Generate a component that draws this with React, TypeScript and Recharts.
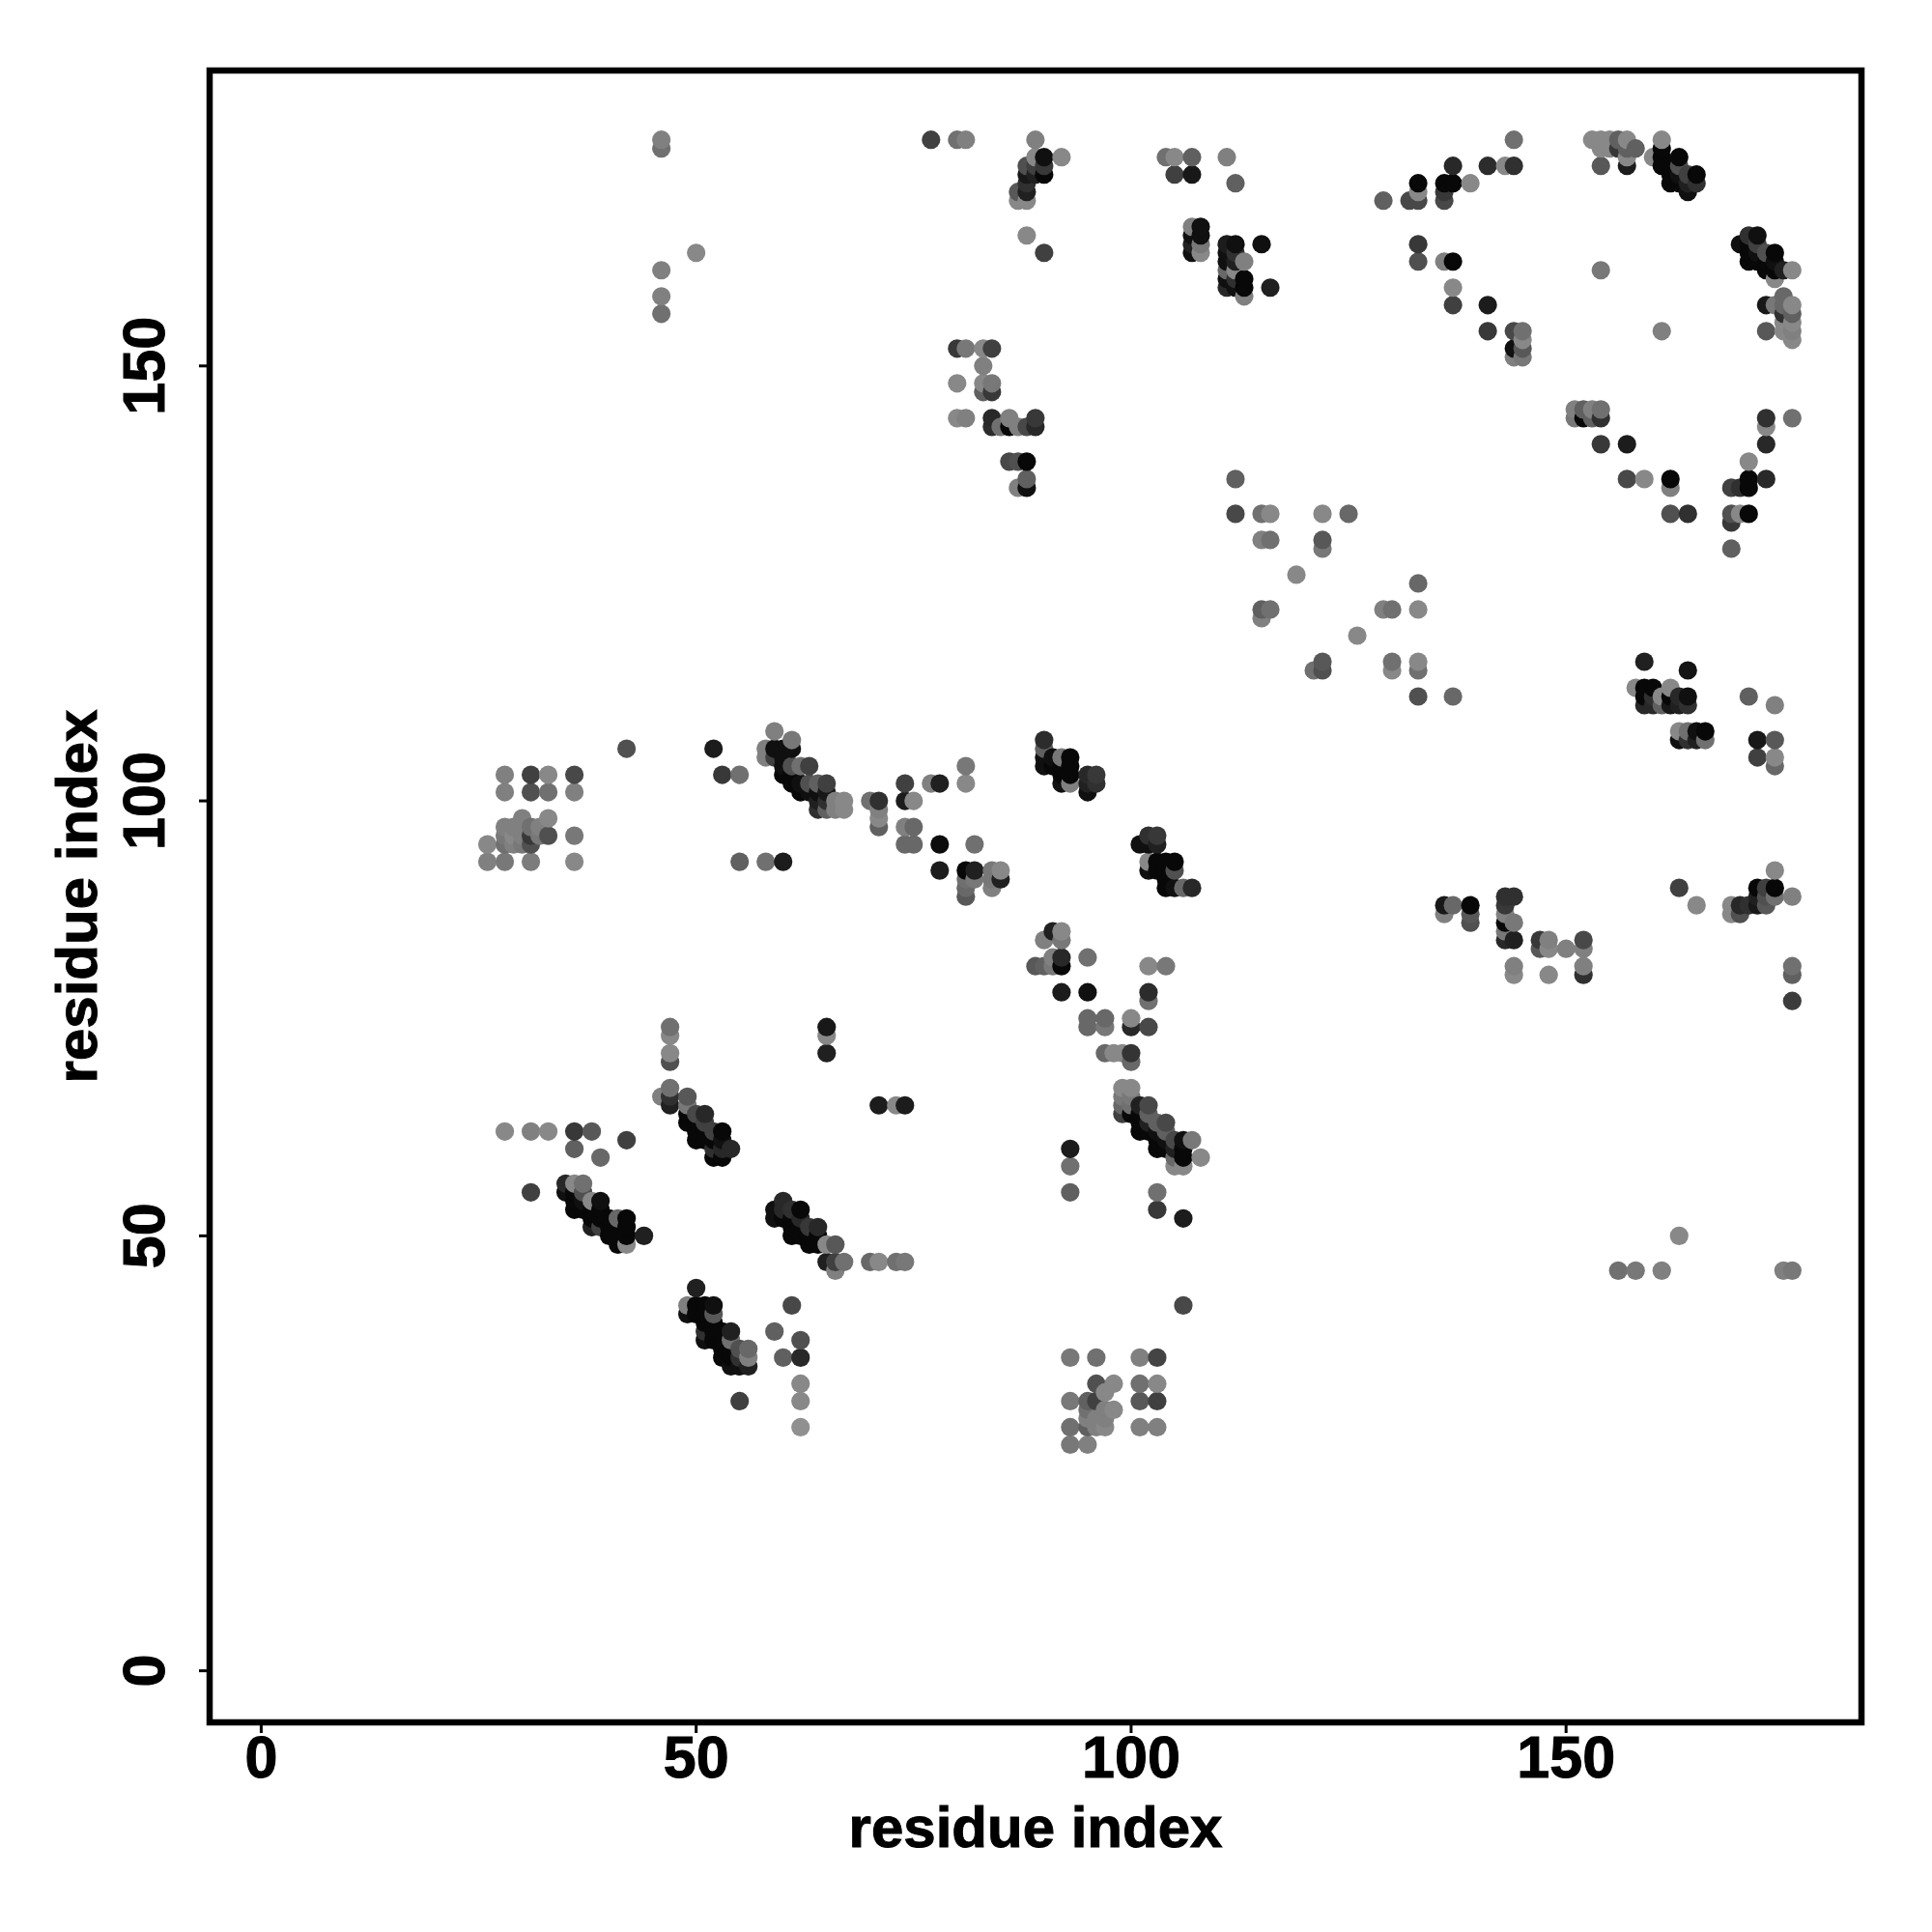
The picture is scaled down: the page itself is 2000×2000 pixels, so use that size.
import React from "react";
import { ScatterChart, Scatter, XAxis, YAxis, ReferenceArea } from "recharts";

type P = [number, number, number]; // residue i, residue j, grey level of the contact

const xTicks = [0, 50, 100, 150];
const yTicks = [0, 50, 100, 150];
const axisTitle = "residue index";

const bottomBlock: P[] = [
  [93,36,0x78],[96,36,0x70],[101,36,0x80],[103,36,0x44],[96,33,0x50],[98,33,0x88],[101,33,0x70],[103,33,0x88],[97,32,0x88],
  [93,31,0x78],[95,31,0x60],[96,31,0x40],[101,31,0x58],[103,31,0x40],[95,30,0x70],[97,30,0x80],[98,30,0x88],
  [95,29,0x80],[96,29,0x80],[97,29,0x80],[93,28,0x70],[95,28,0x60],[96,28,0x80],[97,28,0x88],[101,28,0x80],[103,28,0x80],[93,26,0x78],[95,26,0x80],
];
const strand1: P[] = [
  [50,44,0x20],[49,42,0x80],[49,41,0x10],[50,42,0x08],[51,42,0x08],[52,42,0x10],[50,41,0x08],[51,41,0x08],[52,41,0x58],
  [51,40,0x08],[51,39,0x30],[52,40,0x08],[52,39,0x08],[53,39,0x08],[54,39,0x20],[51,38,0x10],[52,38,0x08],[53,38,0x08],[54,38,0x70],
  [53,37,0x08],[54,37,0x08],[55,37,0x50],[56,37,0x68],[53,36,0x08],[54,36,0x08],[55,36,0x30],[56,36,0x80],[54,35,0x10],[55,35,0x10],[56,35,0x20],
  [55,31,0x40],[61,42,0x48],[59,39,0x60],[62,38,0x50],[60,36,0x60],[62,36,0x28],[62,33,0x88],[62,31,0x88],[62,28,0x90],
];
const strand2: P[] = [
  [31,55,0x40],[35,56,0x28],[35,55,0x10],[36,56,0x88],[37,56,0x70],[36,55,0x08],[36,54,0x08],[36,53,0x08],[37,55,0x50],[37,54,0x10],[37,53,0x08],
  [38,54,0x88],[39,54,0x10],[38,53,0x08],[39,53,0x08],[38,52,0x08],[39,52,0x08],[38,51,0x20],[39,51,0x40],[40,52,0x08],[40,51,0x08],[40,50,0x08],
  [41,52,0x68],[41,50,0x08],[41,49,0x08],[42,52,0x08],[42,51,0x08],[42,50,0x08],[42,49,0x88],[44,50,0x20],
  [59,53,0x10],[59,52,0x10],[60,54,0x28],[60,53,0x28],[60,52,0x08],[61,53,0x30],[61,52,0x08],[61,51,0x08],[61,50,0x08],[62,53,0x08],[62,52,0x28],[62,51,0x08],[62,50,0x08],
  [63,51,0x38],[63,50,0x08],[63,49,0x08],[64,51,0x28],[64,50,0x08],[64,49,0x08],[65,49,0x88],[66,49,0x58],[65,47,0x20],[66,47,0x40],[67,47,0x70],[66,46,0x80],
  [70,47,0x68],[71,47,0x88],[73,47,0x70],[74,47,0x78],
];
const strand3: P[] = [
  [28,62,0x88],[31,62,0x80],[33,62,0x88],[36,62,0x38],[38,62,0x58],[36,60,0x60],[39,59,0x68],[42,61,0x40],
  [47,74,0x70],[47,73,0x88],[47,71,0x88],[47,70,0x50],[65,74,0x18],[65,73,0x88],[65,71,0x20],[71,65,0x1c],[73,65,0x88],[74,65,0x1c],
  [46,66,0x80],[47,67,0x70],[47,66,0x30],[47,65,0x20],[49,66,0x58],[49,65,0x78],[49,64,0x08],[49,63,0x08],[50,64,0x48],[50,63,0x08],[50,62,0x08],[50,61,0x08],
  [51,64,0x28],[51,63,0x40],[51,62,0x08],[51,61,0x08],[52,62,0x40],[52,61,0x08],[52,60,0x30],[52,59,0x08],[53,62,0x08],[53,61,0x10],[53,60,0x28],[53,59,0x08],[54,60,0x28],
];
const strand4: P[] = [
  [99,67,0x88],[100,67,0x88],[99,66,0x78],[99,65,0x68],[99,64,0x40],[100,66,0x78],[100,65,0x70],[100,64,0x08],[101,65,0x20],[102,65,0x48],[101,64,0x08],[101,63,0x08],[101,62,0x08],
  [102,64,0x60],[102,63,0x20],[102,62,0x08],[103,63,0x60],[104,63,0x48],[103,62,0x10],[103,61,0x08],[103,60,0x08],[104,62,0x60],[104,61,0x10],[104,60,0x08],
  [105,61,0x48],[106,61,0x10],[107,61,0x78],[105,60,0x20],[106,60,0x08],[106,59,0x08],[105,59,0x68],[108,59,0x88],[105,58,0x88],[106,58,0x88],
  [93,60,0x1c],[93,58,0x70],[93,55,0x60],[103,55,0x70],[103,53,0x38],[106,52,0x1c],[106,42,0x48],
];
const midPatch: P[] = [
  [26,95,0x88],[26,93,0x80],[28,93,0x78],[31,93,0x7c],[36,93,0x88],[33,96,0x50],[36,96,0x78],[30,98,0x80],[33,98,0x88],
  [28,97,0x80],[29,97,0x80],[28,96,0x78],[29,96,0x88],[28,95,0x70],[29,95,0x80],[30,97,0x80],[30,96,0x80],[30,95,0x78],[31,97,0x70],[31,96,0x38],[31,95,0x50],[32,97,0x80],[32,96,0x78],
  [28,101,0x80],[31,101,0x50],[33,101,0x70],[36,101,0x80],[28,103,0x80],[31,103,0x40],[33,103,0x88],[36,103,0x48],[42,106,0x50],
  [52,106,0x1c],[53,103,0x38],[55,103,0x70],[55,93,0x60],[58,93,0x70],[60,93,0x1c],
];
const strand5: P[] = [
  [59,108,0x80],[61,107,0x78],[58,106,0x80],[58,105,0x80],[59,106,0x10],[59,105,0x40],[60,106,0x10],[60,105,0x10],[60,104,0x10],[60,103,0x08],[61,106,0x10],[61,104,0x50],[61,103,0x08],[61,102,0x08],
  [62,104,0x70],[62,102,0x10],[62,101,0x08],[63,104,0x40],[63,102,0x50],[63,101,0x10],[64,102,0x60],[65,102,0x40],[64,101,0x10],[64,100,0x20],[64,99,0x30],[65,101,0x18],[65,100,0x30],[65,99,0x60],
  [66,100,0x80],[66,99,0x80],[67,100,0x88],[67,99,0x88],
  [70,100,0x70],[71,100,0x30],[71,99,0x80],[71,98,0x88],[71,97,0x60],[74,102,0x40],[74,100,0x1c],[75,100,0x88],[74,97,0x80],[75,97,0x68],[74,95,0x68],[75,95,0x68],
  [77,102,0x80],[78,102,0x20],[81,104,0x78],[81,102,0x88],[78,95,0x0c],[82,95,0x70],[78,92,0x1c],
  [81,92,0x08],[82,92,0x20],[81,91,0x70],[82,91,0x78],[81,90,0x68],[81,89,0x58],[84,92,0x78],[85,92,0x88],[85,91,0x20],[84,91,0x78],[84,90,0x80],
];
const strand6: P[] = [
  [90,107,0x2c],[90,106,0x60],[90,105,0x10],[90,104,0x10],[91,105,0x10],[91,104,0x08],[92,105,0x78],[92,104,0x08],[92,103,0x08],[92,102,0x10],[93,105,0x08],[93,104,0x08],[93,103,0x08],[93,102,0x80],
  [95,103,0x28],[95,102,0x20],[95,101,0x10],[96,103,0x38],[96,102,0x30],
  [101,95,0x10],[102,96,0x30],[103,96,0x38],[102,95,0x10],[103,95,0x20],[102,93,0x88],[102,92,0x10],[103,93,0x08],[104,93,0x08],[105,93,0x08],[103,92,0x08],[104,92,0x08],[105,92,0x50],[104,91,0x08],[104,90,0x08],[105,90,0x10],[106,90,0x68],[107,90,0x28],
  [91,85,0x20],[92,85,0x88],[90,84,0x80],[92,84,0x78],[92,82,0x28],[92,81,0x08],[91,82,0x80],[91,81,0x78],[90,81,0x60],[89,81,0x58],[95,82,0x70],[102,81,0x88],[104,81,0x78],
  [92,78,0x1c],[95,78,0x10],[102,78,0x2c],[102,77,0x70],[95,75,0x68],[95,74,0x68],[97,75,0x68],[97,74,0x78],[100,75,0x88],[100,74,0x28],[102,74,0x48],
  [97,71,0x68],[98,71,0x88],[99,71,0x88],[100,71,0x34],[100,70,0x68],
];
const topLeft: P[] = [
  [46,176,0x80],[46,175,0x70],[46,161,0x80],[46,158,0x80],[46,156,0x70],[50,163,0x88],
  [77,176,0x40],[80,176,0x70],[81,176,0x80],[89,176,0x80],[92,174,0x88],[90,174,0x10],[89,174,0x88],[90,173,0x38],[90,172,0x08],[89,173,0x40],[89,172,0x20],[88,173,0x50],[88,172,0x18],[88,171,0x30],[88,170,0x20],[87,170,0x58],[87,169,0x88],[88,169,0x88],[88,165,0x88],[90,163,0x40],
  [104,174,0x70],[105,174,0x88],[107,174,0x60],[111,174,0x80],[105,172,0x40],[107,172,0x18],[112,171,0x60],
  [107,166,0x80],[108,166,0x10],[108,165,0x10],[107,165,0x10],[107,164,0x20],[108,164,0x78],[107,163,0x10],[108,163,0x88],
  [111,164,0x1c],[112,164,0x10],[115,164,0x10],[111,163,0x10],[112,163,0x30],[113,162,0x80],[111,162,0x10],[112,162,0x20],[111,161,0x68],[112,161,0x88],[111,160,0x10],[112,160,0x30],[113,160,0x08],[113,159,0x08],[111,159,0x28],[112,159,0x10],[113,158,0x80],[116,159,0x20],
  [80,152,0x38],[81,152,0x78],[83,152,0x88],[84,152,0x40],[83,150,0x80],[80,148,0x88],[83,148,0x88],[84,148,0x78],[83,147,0x60],[84,147,0x38],
  [80,144,0x88],[81,144,0x80],[84,144,0x28],[86,144,0x80],[89,144,0x38],[84,143,0x2c],[85,143,0x70],[86,143,0x08],[87,143,0x80],[88,143,0x48],[89,143,0x28],
  [86,139,0x48],[87,139,0x50],[88,139,0x08],[88,137,0x60],[88,136,0x10],[87,136,0x80],
  [112,137,0x60],[112,133,0x48],[115,133,0x70],[116,133,0x88],[122,133,0x88],[125,133,0x68],[115,130,0x80],[116,130,0x70],[122,130,0x58],[122,129,0x78],[119,126,0x88],
  [115,122,0x60],[116,122,0x70],[115,121,0x80],[129,122,0x80],[130,122,0x70],[133,122,0x88],[133,125,0x68],[126,119,0x88],
];
const topRight: P[] = [
  [144,176,0x70],[137,173,0x28],[141,173,0x2c],[143,173,0x88],[144,173,0x30],[133,171,0x08],[136,171,0x08],[137,171,0x08],[139,171,0x88],[133,170,0x88],[136,170,0x38],[129,169,0x60],[132,169,0x48],[133,169,0x48],[136,169,0x48],
  [133,164,0x38],[133,162,0x50],[136,162,0x80],[137,162,0x08],[137,159,0x88],[137,157,0x40],[141,157,0x1c],[141,154,0x38],[144,154,0x48],[145,154,0x70],[145,153,0x88],[144,152,0x10],[145,152,0x58],[144,151,0x80],[145,151,0x78],[154,161,0x78],[161,154,0x80],
  [153,176,0x88],[154,176,0x88],[155,176,0x88],[156,176,0x60],[157,176,0x88],[161,176,0x88],[154,175,0x88],[155,175,0x88],[156,175,0x38],[157,175,0x60],[158,175,0x60],[157,174,0x88],[160,174,0x88],[154,173,0x58],[157,173,0x1c],
  [161,175,0x08],[161,174,0x08],[163,174,0x08],[162,173,0x08],[161,173,0x08],[162,172,0x08],[163,173,0x50],[164,172,0x40],[165,172,0x08],[163,172,0x10],[162,171,0x08],[163,171,0x08],[165,171,0x30],[164,171,0x20],[164,170,0x10],
  [170,164,0x10],[171,165,0x30],[172,165,0x10],[171,164,0x08],[172,164,0x40],[171,163,0x08],[171,162,0x08],[172,163,0x10],[173,163,0x50],[174,163,0x08],[172,162,0x08],[173,162,0x08],[173,161,0x08],[174,162,0x10],[174,161,0x08],[175,161,0x20],[176,161,0x88],[174,160,0x88],
  [173,157,0x18],[174,157,0x78],[175,158,0x68],[176,157,0x88],[175,157,0x68],[175,156,0x30],[176,156,0x60],[175,155,0x88],[176,155,0x88],[175,154,0x88],[176,154,0x80],[173,154,0x58],[176,153,0x88],
  [151,145,0x80],[152,145,0x60],[153,145,0x80],[154,145,0x70],[151,144,0x78],[152,144,0x08],[153,144,0x60],[154,144,0x30],[154,141,0x38],[157,141,0x1c],
  [173,144,0x30],[176,144,0x70],[173,143,0x88],[173,141,0x28],[171,139,0x88],[157,137,0x48],[159,137,0x88],[162,137,0x08],[171,137,0x08],[173,137,0x28],[162,136,0x80],[169,136,0x40],[170,136,0x30],[171,136,0x08],
  [162,133,0x50],[164,133,0x30],[169,133,0x50],[170,133,0x88],[171,133,0x08],[169,132,0x38],[169,129,0x60],
];
const rightMiddle: P[] = [
  [121,115,0x70],[122,116,0x58],[122,115,0x50],[130,116,0x70],[130,115,0x88],[133,116,0x88],[133,115,0x70],[133,112,0x50],[137,112,0x68],
  [159,116,0x20],[164,115,0x14],[158,113,0x88],[159,113,0x08],[160,113,0x08],[162,113,0x88],[159,112,0x08],[160,112,0x30],[161,112,0x88],[162,112,0x08],[163,112,0x28],[164,112,0x10],[159,111,0x28],[160,111,0x28],[161,111,0x60],[162,111,0x18],[163,111,0x20],[164,111,0x30],
  [163,108,0x88],[164,108,0x70],[165,108,0x10],[166,108,0x08],[163,107,0x10],[164,107,0x30],[165,107,0x20],[166,107,0x70],[171,112,0x60],[174,111,0x80],[172,107,0x18],[174,107,0x58],[172,105,0x40],[174,105,0x88],[174,104,0x68],
  [174,92,0x88],[163,90,0x40],[165,88,0x88],[172,90,0x08],[173,90,0x40],[174,90,0x08],[176,89,0x80],[174,89,0x70],[172,89,0x20],[173,89,0x50],[169,88,0x88],[170,88,0x28],[171,88,0x30],[172,88,0x18],[173,88,0x58],[169,87,0x88],[170,87,0x50],
  [136,88,0x18],[137,88,0x68],[136,87,0x80],[139,88,0x08],[139,87,0x58],[139,86,0x50],[143,89,0x30],[144,89,0x30],[143,88,0x38],[143,87,0x80],[144,86,0x78],[143,86,0x08],[143,85,0x78],[143,84,0x28],[144,84,0x20],
  [147,84,0x38],[148,84,0x80],[147,83,0x58],[148,83,0x88],[150,83,0x80],[152,84,0x48],[152,83,0x80],[144,81,0x80],[144,80,0x88],[148,80,0x88],[152,81,0x80],[152,80,0x30],[176,81,0x70],[176,80,0x60],[176,77,0x3c],
  [156,46,0x70],[158,46,0x78],[161,46,0x80],[163,50,0x88],[175,46,0x80],[176,46,0x78],
];

const contacts = [...bottomBlock, ...strand1, ...strand2, ...strand3, ...strand4, ...midPatch, ...strand5, ...strand6, ...topLeft, ...topRight, ...rightMiddle]
  .slice()
  .sort((a, b) => a[0] - b[0] || a[1] - b[1])
  .map(([i, j, level]) => ({ i, j, level }));

const FONT = '"Liberation Sans", Arial, sans-serif';
const DOMAIN: [number, number] = [-5.93, 183.96];
const textStyle = { fontFamily: FONT, fontWeight: 700, fill: "#000", stroke: "#000", strokeWidth: 1 };

const Dot = (props: any) => {
  const { cx, cy, payload } = props;
  const g = payload.level;
  return <circle cx={cx} cy={cy} r={9.6} fill={`rgb(${g},${g},${g})`} />;
};

const XTick = ({ x, y, payload }: any) => (
  <text x={x} y={y + 44} textAnchor="middle" fontSize={61} {...textStyle}>
    {payload.value}
  </text>
);

const YTick = ({ y, payload }: any) => (
  <text x={0} y={0} transform={`translate(170 ${y}) rotate(-90)`} textAnchor="middle" fontSize={61} {...textStyle}>
    {payload.value}
  </text>
);

const XTitle = () => (
  <text x={1072} y={1912} textAnchor="middle" fontSize={60} {...textStyle}>
    {axisTitle}
  </text>
);

const YTitle = () => (
  <text x={0} y={0} transform="translate(100 928) rotate(-90)" textAnchor="middle" fontSize={60} {...textStyle}>
    {axisTitle}
  </text>
);

export default function App() {
  return (
    <div style={{ position: "absolute", left: 0, top: 0, width: 2000, height: 2000, background: "#fff" }}>
      <ScatterChart width={2000} height={2000} margin={{ top: 73, right: 73, bottom: 157, left: 157 }}>
        <XAxis
          type="number"
          dataKey="i"
          domain={DOMAIN}
          ticks={xTicks}
          allowDataOverflow
          height={60}
          axisLine={false}
          tickSize={11}
          tickLine={{ stroke: "#000", strokeWidth: 3 }}
          tick={<XTick />}
          label={<XTitle />}
        />
        <YAxis
          type="number"
          dataKey="j"
          domain={DOMAIN}
          ticks={yTicks}
          allowDataOverflow
          width={60}
          axisLine={false}
          tickSize={11}
          tickLine={{ stroke: "#000", strokeWidth: 3 }}
          tick={<YTick />}
          label={<YTitle />}
        />
        <ReferenceArea x1={DOMAIN[0]} x2={DOMAIN[1]} y1={DOMAIN[0]} y2={DOMAIN[1]} fill="none" stroke="#000" strokeWidth={6.5} fillOpacity={0} />
        <Scatter data={contacts} isAnimationActive={false} shape={<Dot />} />
      </ScatterChart>
    </div>
  );
}
